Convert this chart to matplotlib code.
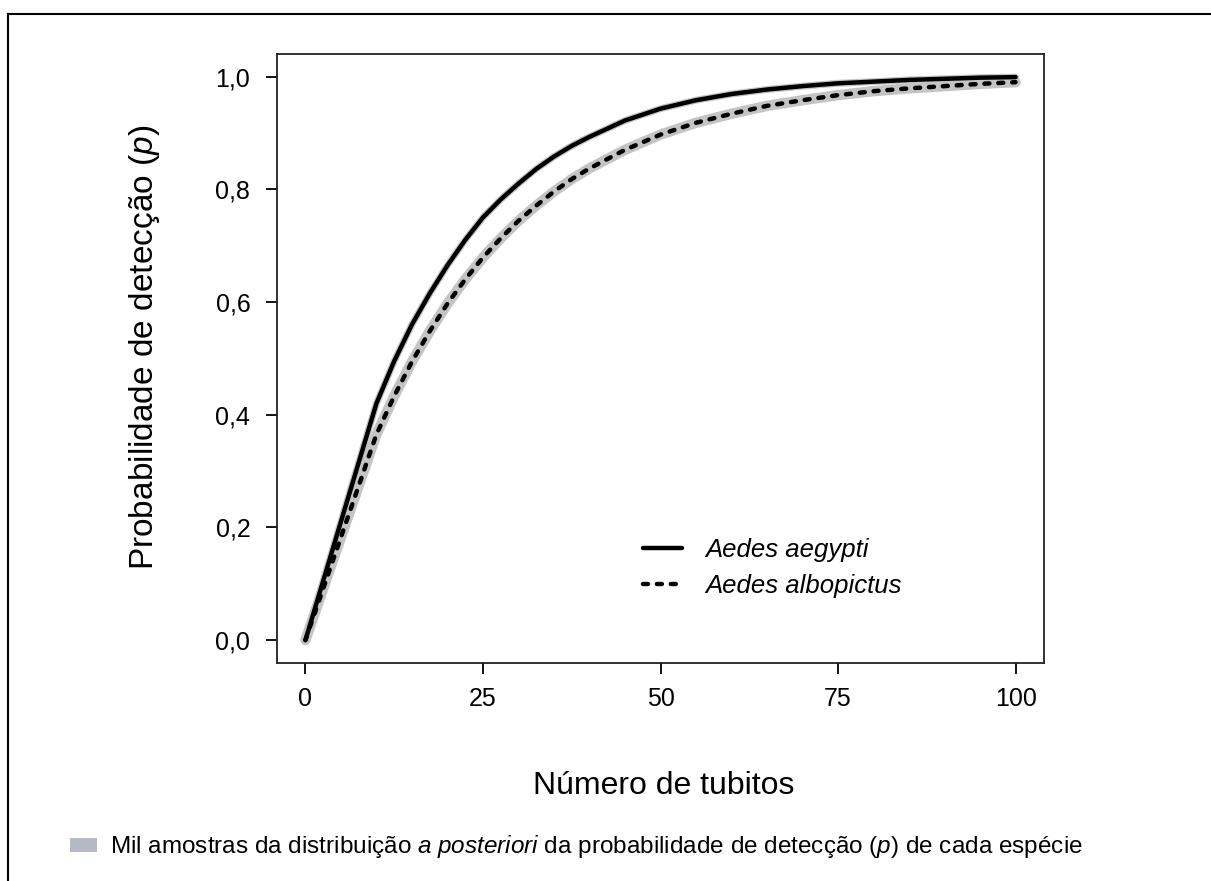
import matplotlib
matplotlib.use("Agg")
import matplotlib.pyplot as plt
from matplotlib.lines import Line2D
from matplotlib.patches import Rectangle

plt.rcParams['font.family'] = ['Liberation Sans', 'DejaVu Sans']
plt.rcParams['mathtext.fontset'] = 'custom'
plt.rcParams['mathtext.rm'] = 'Liberation Sans'
plt.rcParams['mathtext.it'] = 'Liberation Sans:italic'
plt.rcParams['lines.scale_dashes'] = False

# ---- data ----
tubitos = [0, 10, 12.5, 15, 17.5, 20, 22.5, 25, 27.5, 30, 32.5, 35, 37.5, 40, 45, 50,
           55, 60, 65, 70, 75, 80, 85, 90, 95, 100]
p_aegypti = [0.0, 0.42, 0.495, 0.56, 0.615, 0.665, 0.71, 0.75, 0.782, 0.81, 0.836, 0.858,
             0.877, 0.893, 0.922, 0.943, 0.958, 0.969, 0.977, 0.983, 0.988, 0.991, 0.994,
             0.996, 0.998, 0.999]
p_albopictus = [0.0, 0.365, 0.433, 0.494, 0.548, 0.597, 0.640, 0.679, 0.713, 0.744, 0.771,
                0.796, 0.818, 0.837, 0.870, 0.897, 0.918, 0.934, 0.948, 0.958, 0.967,
                0.974, 0.979, 0.983, 0.987, 0.990]
species = ['Aedes aegypti', 'Aedes albopictus']
xticks = [0, 25, 50, 75, 100]
yticks = [0.0, 0.2, 0.4, 0.6, 0.8, 1.0]
ytick_labels = ['0,0', '0,2', '0,4', '0,6', '0,8', '1,0']

W, H = 1211, 881
fig = plt.figure(figsize=(W / 100, H / 100), dpi=100)
fig.patch.set_facecolor('white')

ax = fig.add_axes([277 / W, 1 - 662.7 / H, (1044 - 277) / W, (662.7 - 54) / H])

band_col = '#c4c4c4'
# posterior sample bands
ax.plot(tubitos, p_aegypti, color=band_col, lw=5.0, solid_capstyle='round',
        solid_joinstyle='round', zorder=2)
ax.plot(tubitos, p_albopictus, color=band_col, lw=7.5, solid_capstyle='round',
        solid_joinstyle='round', zorder=2)
# mean curves
ax.plot(tubitos, p_aegypti, color='black', lw=3.2, solid_capstyle='round',
        solid_joinstyle='round', label=species[0], zorder=3)
ax.plot(tubitos, p_albopictus, color='black', lw=3.2, dashes=(3.6, 6.4),
        dash_capstyle='round', dash_joinstyle='round', label=species[1], zorder=4)

ax.set_xlim(-4, 104)
ax.set_ylim(-0.04, 1.04)
ax.set_xticks(xticks)
ax.set_xticklabels([str(v) for v in xticks])
ax.set_yticks(yticks)
ax.set_yticklabels(ytick_labels)
ax.tick_params(axis='both', direction='out', length=8.2, width=1.3, labelsize=18,
               colors='black')
ax.tick_params(axis='x', pad=9)
ax.tick_params(axis='y', pad=11)
for s in ax.spines.values():
    s.set_linewidth(1.3)
    s.set_color('#222222')

leg = ax.legend(loc='upper left', bbox_to_anchor=(643 / W, 1 - 538 / H),
                bbox_transform=fig.transFigure, frameon=False,
                handlelength=1.52, handletextpad=0.9, labelspacing=0.45,
                borderpad=0, borderaxespad=0, prop={'style': 'italic', 'size': 18.5})

# axis titles
fig.text(664 / W, 1 - 794 / H, 'Número de tubitos', fontsize=23, ha='center',
         va='baseline')
fig.text(162 / W, 1 - 347 / H, r'Probabilidade de detecção ($\mathit{p}$)', fontsize=24,
         rotation=90, ha='right', va='center')

# footer legend
fig.patches.append(Rectangle((70 / W, 1 - 852 / H), 27 / W, 14 / H,
                             transform=fig.transFigure, facecolor='#b6b9c3',
                             edgecolor='none'))
fig.text(110 / W, 1 - 853 / H,
         r'Mil amostras da distribuição $\mathit{a\ posteriori}$ da probabilidade de '
         r'detecção ($\mathit{p}$) de cada espécie', fontsize=17.5, ha='left',
         va='baseline')

# outer frame (top and left edges)
fig.add_artist(Line2D([8 / W, 1.0], [1 - 14 / H, 1 - 14 / H], transform=fig.transFigure,
                      color='black', lw=1.5))
fig.add_artist(Line2D([8 / W, 8 / W], [0.0, 1 - 14 / H], transform=fig.transFigure,
                      color='black', lw=1.5))

fig.savefig('out.png', dpi=100)
